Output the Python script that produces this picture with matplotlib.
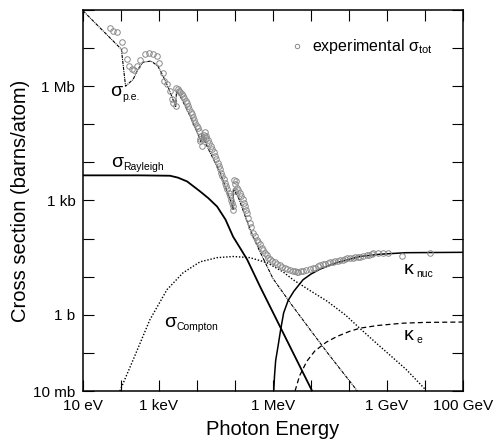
import numpy as np
import matplotlib
matplotlib.use("Agg")
import matplotlib.pyplot as plt
from matplotlib.ticker import NullLocator, FixedFormatter, FixedLocator

plt.rcParams["font.family"] = ["Liberation Sans", "DejaVu Sans"]
plt.rcParams["mathtext.fontset"] = "custom"
plt.rcParams["mathtext.rm"] = "Liberation Sans"

# dados (log10 da energia em eV, log10 da seccao em barns)

# sigma p.e.
pe_logE = [1.0, 2.01, 2.12, 2.32, 2.45, 2.58, 2.79, 2.97, 3.11, 3.25, 3.44, 3.46,
           3.6, 3.8, 4.0, 4.1, 4.12, 4.3, 4.6, 4.9, 4.95, 4.96, 5.1, 5.3, 5.5,
           5.66, 6.0, 6.5, 7.0, 7.42, 8.22]
pe_logS = [7.98, 6.97, 6.0, 6.18, 6.45, 6.63, 6.66, 6.53, 6.26, 5.95, 5.47, 5.87,
           5.66, 5.25, 4.8, 4.55, 4.72, 4.35, 3.75, 2.95, 2.75, 3.3, 3.05, 2.5, 2.0,
           1.65, 0.95, 0.25, -0.42, -0.98, -2.0]

# sigma Rayleigh
ray_logE = [1.0, 2.5, 3.29, 3.5, 3.74, 4.08, 4.3, 4.53, 4.75, 4.95, 5.13, 5.32,
            5.66, 6.0, 6.5, 7.03]
ray_logS = [3.66, 3.66, 3.65, 3.6, 3.5, 3.24, 3.06, 2.84, 2.5, 2.05, 1.76, 1.45,
            0.74, 0.06, -0.94, -2.0]

# sigma Compton
comp_logE = [1.97, 2.32, 2.76, 3.21, 3.63, 4.08, 4.53, 4.95, 5.39, 5.84, 6.26,
             6.53, 7.0, 7.42, 7.9, 8.29, 8.76, 9.5, 10.0]
comp_logS = [-2.0, -1.18, -0.13, 0.66, 1.10, 1.39, 1.50, 1.53, 1.50, 1.37, 1.13,
             0.92, 0.62, 0.36, 0.0, -0.36, -0.78, -1.43, -1.95]

# kappa nuc
nuc_logE = [6.02, 6.04, 6.07, 6.13, 6.2, 6.28, 6.4, 6.55, 6.79, 7.0, 7.24, 7.68,
            8.29, 8.82, 9.5, 11.0]
nuc_logS = [-2.0, -1.6, -1.2, -0.84, -0.4, 0.05, 0.38, 0.62, 0.92, 1.07, 1.2,
            1.37, 1.53, 1.59, 1.63, 1.64]

# kappa e
ke_logE = [6.58, 6.7, 6.89, 7.1, 7.4, 7.68, 8.0, 8.29, 8.76, 9.42, 10.0, 11.0]
ke_logS = [-2.0, -1.6, -1.22, -0.95, -0.72, -0.57, -0.44, -0.35, -0.28, -0.22,
           -0.2, -0.19]

# sigma tot experimental
exp_logE = [1.71, 1.80, 1.89, 2.02, 2.08, 2.15, 2.21, 2.28, 2.34, 2.41, 2.50, 2.63,
            2.74, 2.85, 2.94, 3.01, 3.10, 3.14, 3.20, 3.29, 3.33, 3.38, 3.44, 3.46,
            3.53, 3.60, 3.67, 3.73, 3.79, 3.86, 3.93, 3.99, 4.05, 4.08, 4.11, 4.12,
            4.18, 4.21, 4.25, 4.32, 4.40, 4.47, 4.54, 4.61, 4.67, 4.74, 4.80, 4.87,
            4.93, 4.96, 5.00, 5.06, 5.13, 5.20, 5.26, 5.32, 5.39, 5.48, 5.57, 5.66,
            5.74, 5.83, 5.92, 6.05, 6.18, 6.32, 6.45, 6.58, 6.67, 6.80, 6.97, 7.11,
            7.24, 7.37, 7.50, 7.63, 7.76, 7.89, 8.03, 8.16, 8.29, 8.47, 8.60, 8.64,
            8.77, 8.90, 9.03, 9.40, 10.13,
            3.49, 3.56, 3.63, 3.70, 3.76, 3.83, 3.90, 3.96, 4.02, 4.09, 4.15, 4.23,
            4.29, 4.36, 4.44, 4.51, 4.57, 4.64, 4.70, 4.77, 4.84, 4.90, 4.95, 4.98,
            5.01, 5.03, 5.09, 5.16, 5.23, 5.29, 5.35, 5.43, 5.52, 5.61, 5.70, 5.78,
            5.88, 5.98, 6.11, 6.25, 6.38, 6.52, 6.62, 6.73, 6.88, 7.04, 7.18, 7.31,
            7.44, 7.57, 7.70, 7.83, 7.96, 8.10, 8.23, 8.36, 8.53]
exp_logS = [7.52, 7.46, 7.41, 7.17, 6.96, 6.71, 6.53, 6.45, 6.42, 6.53, 6.69, 6.84,
            6.86, 6.84, 6.78, 6.62, 6.34, 6.14, 6.05, 5.88, 5.66, 5.55, 5.47, 5.94,
            5.88, 5.79, 5.68, 5.55, 5.41, 5.26, 5.11, 4.95, 4.82, 4.56, 4.69, 4.43,
            4.71, 4.80, 4.65, 4.52, 4.34, 4.17, 3.99, 3.82, 3.64, 3.46, 3.29, 3.11,
            2.94, 2.76, 3.42, 3.33, 3.20, 3.03, 2.85, 2.67, 2.40, 2.15, 1.97, 1.85,
            1.70, 1.56, 1.46, 1.38, 1.30, 1.24, 1.18, 1.14, 1.13, 1.16, 1.20, 1.24,
            1.30, 1.34, 1.38, 1.40, 1.43, 1.46, 1.49, 1.51, 1.53, 1.57, 1.59, 1.61,
            1.61, 1.61, 1.61, 1.55, 1.61,
            5.92, 5.84, 5.74, 5.62, 5.48, 5.33, 5.18, 5.03, 4.89, 4.62, 4.62, 4.70,
            4.58, 4.43, 4.26, 4.08, 3.91, 3.73, 3.56, 3.38, 3.20, 3.02, 2.85, 3.55,
            3.25, 3.50, 3.27, 3.12, 2.94, 2.76, 2.55, 2.30, 2.06, 1.90, 1.76, 1.63,
            1.50, 1.41, 1.33, 1.26, 1.20, 1.15, 1.12, 1.15, 1.18, 1.22, 1.27, 1.33,
            1.36, 1.39, 1.42, 1.44, 1.48, 1.50, 1.52, 1.55, 1.58]

# eixos
xtick_vals = [1e1, 1e3, 1e6, 1e9, 1e11]
xtick_labels = ["10 eV", "1 keV", "1 MeV", "1 GeV", "100 GeV"]
ytick_vals = [1e-2, 1e0, 1e3, 1e6]
ytick_labels = ["10 mb", "1 b", "1 kb", "1 Mb"]


def p(v):
    return 10 ** np.array(v)


fig = plt.figure(figsize=(4.95, 4.44), dpi=100)
ax = fig.add_axes([83 / 495, 53 / 444, 380 / 495, 381 / 444])

ax.plot(p(ray_logE), p(ray_logS), color="black", lw=1.3, solid_joinstyle="round")
ax.plot(p(comp_logE), p(comp_logS), color="black", lw=1.0, ls=(0, (1, 1.3)))
ax.plot(p(nuc_logE), p(nuc_logS), color="black", lw=1.1)
ax.plot(p(ke_logE), p(ke_logS), color="black", lw=0.9, ls=(0, (4, 2.5)))
ax.plot(p(pe_logE), p(pe_logS), color="black", lw=0.8, ls=(0, (3, 0.8, 0.8, 0.8)))

ax.plot(p(exp_logE), p(exp_logS), ls="none", marker="o", ms=4,
        mfc="none", mec="#8a8a8a", mew=0.7,
        label=r"experimental σ$_{\rm tot}$")

ax.set_xscale("log")
ax.set_yscale("log")
ax.set_xlim(1e1, 1e11)
ax.set_ylim(1e-2, 1e8)

# ticks em todas as decadas, rotulos so em algumas
xt = [10.0 ** k for k in range(1, 12)]
xl = [xtick_labels[xtick_vals.index(v)] if v in xtick_vals else "" for v in xt]
ax.xaxis.set_major_locator(FixedLocator(xt))
ax.xaxis.set_major_formatter(FixedFormatter(xl))
yt = [10.0 ** k for k in range(-2, 9)]
yl = [ytick_labels[ytick_vals.index(v)] if v in ytick_vals else "" for v in yt]
ax.yaxis.set_major_locator(FixedLocator(yt))
ax.yaxis.set_major_formatter(FixedFormatter(yl))
ax.xaxis.set_minor_locator(NullLocator())
ax.yaxis.set_minor_locator(NullLocator())

ax.tick_params(which="major", direction="in", length=8, width=0.8,
               top=True, right=True, labelsize=11)
ax.tick_params(axis="x", pad=6)
ax.tick_params(axis="y", pad=5.5)

for s in ax.spines.values():
    s.set_linewidth(1.1)

ax.set_xlabel("Photon Energy", fontsize=14.5)
ax.set_ylabel("Cross section (barns/atom)", fontsize=14.5)
ax.xaxis.set_label_coords(0.5, -0.075)
ax.yaxis.set_label_coords(-0.14, 0.5)

# nomes das curvas


def rotulo(lx, ly, main, sub):
    ax.text(10 ** lx, 10 ** ly, main, fontsize=14, va="baseline", ha="left")
    ax.annotate(sub, xy=(10 ** lx, 10 ** ly), xytext=(9.0, -2.5),
                textcoords="offset points", fontsize=7.5,
                va="baseline", ha="left")


rotulo(1.71, 5.74, "σ", "p.e.")
rotulo(1.74, 3.89, "σ", "Rayleigh")
rotulo(3.13, -0.32, "σ", "Compton")
rotulo(9.45, 1.08, "κ", "nuc")
rotulo(9.45, -0.66, "κ", "e")

ax.legend(loc="center left", bbox_to_anchor=(0.526, 0.903), frameon=False,
          fontsize=11.5, handlelength=1.0, handletextpad=0.4,
          borderaxespad=0, borderpad=0.4, markerscale=0.8)

plt.savefig("out.png", dpi=100)
plt.close()
